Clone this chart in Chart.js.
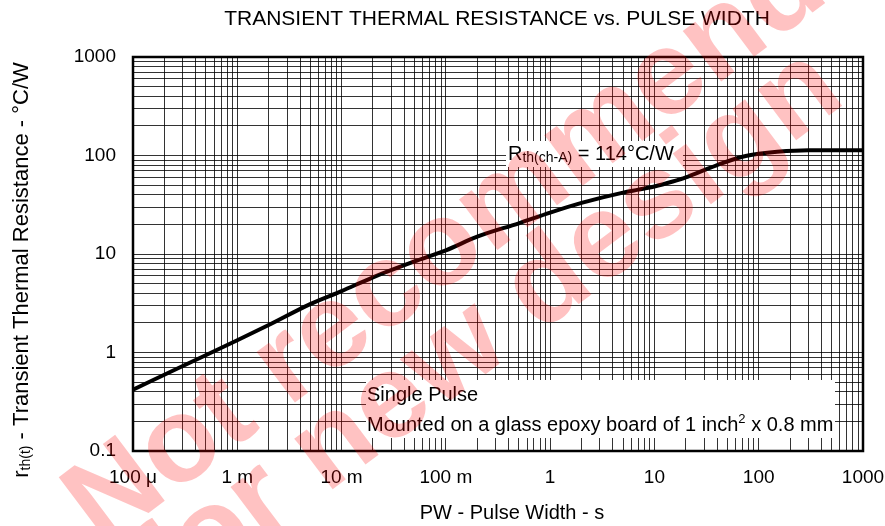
<!DOCTYPE html>
<html>
<head>
<meta charset="utf-8">
<script src="https://cdn.jsdelivr.net/npm/chart.js@4.4.1/dist/chart.umd.min.js"></script>
<style>
  html, body { margin: 0; padding: 0; background: #fff; }
  canvas { display: block; }
</style>
</head>
<body>
<canvas id="thermalChart" width="885" height="526"></canvas>
<script>
// single pulse curve
var pulseWidth = [0.0001, 0.0003, 0.001, 0.002, 0.005, 0.01, 0.02, 0.05, 0.1, 0.2, 0.5, 1, 2, 5, 7, 10, 15, 20, 30, 40, 70, 100, 150, 300, 1000];
var thermalRes = [0.42, 0.73, 1.33, 1.9, 3.1, 4.2, 5.8, 8.4, 10.9, 15, 20.5, 26.3, 33, 42, 45, 48.5, 54.5, 60, 71, 80, 97, 104, 109, 113, 113];

// decade ticks and their labels
var xTickValues = [0.0001, 0.001, 0.01, 0.1, 1, 10, 100, 1000];
var xTickLabels = ['100 \u03bc', '1 m', '10 m', '100 m', '1', '10', '100', '1000'];
var yTickValues = [0.1, 1, 10, 100, 1000];
var yTickLabels = ['0.1', '1', '10', '100', '1000'];

var FONT = '"Liberation Sans", Arial, sans-serif';

// 1..9 grid inside every decade
function logGrid(decades) {
  var ticks = [];
  for (var i = 0; i < decades.length - 1; i++) {
    for (var k = 1; k < 10; k++) ticks.push({ value: decades[i] * k });
  }
  ticks.push({ value: decades[decades.length - 1] });
  return ticks;
}

function labelFor(values, labels, v) {
  for (var i = 0; i < values.length; i++) {
    if (Math.abs(Math.log10(v) - Math.log10(values[i])) < 1e-6) return labels[i];
  }
  return '';
}

// text with sub / superscript pieces
function runsWidth(ctx, runs) {
  var w = 0;
  runs.forEach(function (r) {
    ctx.font = r.size + 'px ' + FONT;
    w += ctx.measureText(r.text).width;
  });
  return w;
}
function drawRuns(ctx, x, y, runs) {
  runs.forEach(function (r) {
    ctx.font = r.size + 'px ' + FONT;
    ctx.fillText(r.text, x, y + (r.dy || 0));
    x += ctx.measureText(r.text).width;
  });
}

var decorations = {
  id: 'decorations',
  afterDatasetsDraw: function (chart) {
    var ctx = chart.ctx, a = chart.chartArea;
    ctx.save();
    ctx.fillStyle = '#fff';
    ctx.fillRect(506, 141, 177, 26);
    ctx.fillRect(366, 380, 469, 58);

    ctx.fillStyle = '#000';
    ctx.textAlign = 'left';
    ctx.textBaseline = 'alphabetic';
    drawRuns(ctx, 508, 160, [
      { text: 'R', size: 20 },
      { text: 'th(ch-A)', size: 14, dy: 2 },
      { text: ' = 114\u00b0C/W', size: 20 }
    ]);
    drawRuns(ctx, 367, 401, [{ text: 'Single Pulse', size: 20 }]);
    drawRuns(ctx, 367, 431, [
      { text: 'Mounted on a glass epoxy board of 1 inch', size: 20 },
      { text: '2', size: 13, dy: -8 },
      { text: ' x 0.8 mm', size: 20 }
    ]);

    ctx.strokeStyle = '#000';
    ctx.lineWidth = 2.5;
    ctx.strokeRect(a.left, a.top, a.right - a.left, a.bottom - a.top);
    ctx.restore();
  },
  afterDraw: function (chart) {
    var ctx = chart.ctx;
    ctx.save();
    ctx.fillStyle = '#000';
    ctx.textBaseline = 'alphabetic';

    ctx.textAlign = 'center';
    ctx.font = '21px ' + FONT;
    ctx.fillText('TRANSIENT THERMAL RESISTANCE vs. PULSE WIDTH', 497, 25);
    ctx.font = '20px ' + FONT;
    ctx.fillText('PW - Pulse Width - s', 512, 519);

    ctx.textAlign = 'left';
    var yRuns = [
      { text: 'r', size: 22 },
      { text: 'th(t)', size: 14, dy: 2 },
      { text: ' - Transient Thermal Resistance - \u00b0C/W', size: 22 }
    ];
    var w = runsWidth(ctx, yRuns);
    ctx.save();
    ctx.translate(28, 270 + w / 2);
    ctx.rotate(-Math.PI / 2);
    drawRuns(ctx, 0, 0, yRuns);
    ctx.restore();

    // watermark
    ctx.save();
    ctx.fillStyle = 'rgba(255, 0, 0, 0.24)';
    ctx.font = 'bold 120px ' + FONT;
    ctx.translate(102, 548);
    ctx.rotate(-37 * Math.PI / 180);
    ctx.fillText('Not recommended', 0, 0);
    ctx.fillText('for new design', 18, 92);
    ctx.restore();

    ctx.restore();
  }
};

var ctx = document.getElementById('thermalChart').getContext('2d');
var chart = new Chart(ctx, {
  type: 'scatter',
  data: {
    datasets: [{
      data: pulseWidth.map(function (x, i) { return { x: x, y: thermalRes[i] }; }),
      showLine: true,
      borderColor: '#000',
      borderWidth: 4,
      pointRadius: 0,
      cubicInterpolationMode: 'monotone'
    }]
  },
  options: {
    responsive: false,
    animation: false,
    devicePixelRatio: 1,
    layout: { padding: { top: 57, right: 22, left: 0, bottom: 0 } },
    plugins: { legend: { display: false }, tooltip: { enabled: false } },
    scales: {
      x: {
        type: 'logarithmic',
        min: 0.0001,
        max: 1000,
        border: { display: false },
        grid: { color: 'rgba(0,0,0,0.8)', lineWidth: 1, drawTicks: false },
        ticks: {
          autoSkip: false,
          maxRotation: 0,
          padding: 15,
          color: '#000',
          font: { family: FONT, size: 19 },
          callback: function (v) { return labelFor(xTickValues, xTickLabels, v); }
        },
        afterBuildTicks: function (scale) { scale.ticks = logGrid(xTickValues); },
        afterFit: function (scale) { scale.height = 75; scale.paddingLeft = 0; scale.paddingRight = 0; }
      },
      y: {
        type: 'logarithmic',
        min: 0.1,
        max: 1000,
        border: { display: false },
        grid: { color: 'rgba(0,0,0,0.8)', lineWidth: 1, drawTicks: false },
        ticks: {
          autoSkip: false,
          padding: 17,
          color: '#000',
          font: { family: FONT, size: 19 },
          callback: function (v) { return labelFor(yTickValues, yTickLabels, v); }
        },
        afterBuildTicks: function (scale) { scale.ticks = logGrid(yTickValues); },
        afterFit: function (scale) { scale.width = 133; scale.paddingTop = 0; scale.paddingBottom = 0; }
      }
    }
  },
  plugins: [decorations]
});
</script>
</body>
</html>
